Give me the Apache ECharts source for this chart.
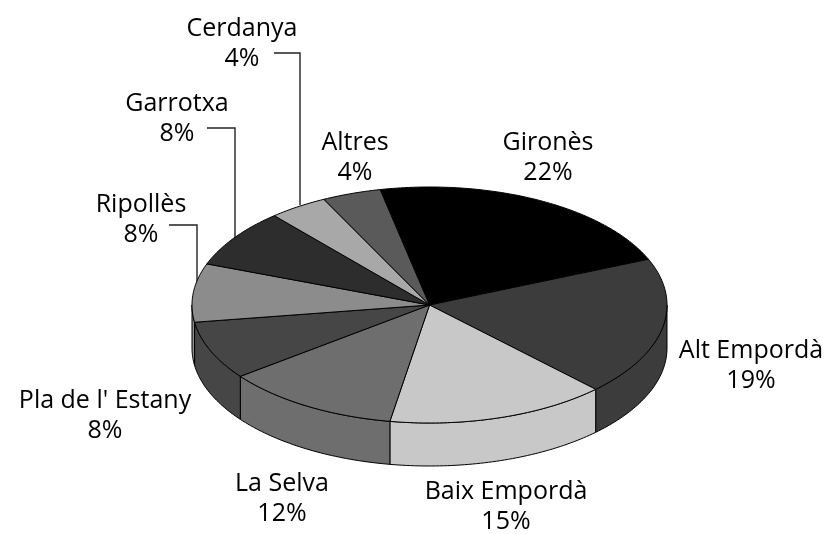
<!DOCTYPE html>
<html>
<head>
<meta charset="utf-8">
<style>
  html, body { margin: 0; padding: 0; background: #fff; }
  #chart { width: 827px; height: 534px; }
</style>
<script src="https://cdn.jsdelivr.net/npm/echarts@6/dist/echarts.min.js"></script>
</head>
<body>
<div id="chart"></div>
<script>
var categories = ['Gironès', 'Alt Empordà', 'Baix Empordà', 'La Selva', 'Pla de l\' Estany', 'Ripollès', 'Garrotxa', 'Cerdanya', 'Altres'];
var shares = [22, 19, 15, 12, 8, 8, 8, 4, 4];
var greys = ['#000000', '#3c3c3c', '#c8c8c8', '#6e6e6e', '#464646', '#8c8c8c', '#2d2d2d', '#a8a8a8', '#5a5a5a'];

// layout of the tilted pie
var cx = 429.5, cy = 305, rx = 237.5, ry = 118, depth = 43;
var startAngle = 102;

// label centres, same order as categories
var labelX = [548, 751, 506, 282, 105, 141, 177, 242, 355];
var labelY = [158, 366, 507, 499, 416, 220, 119, 44, 158];

// leader lines: Ripollès, Garrotxa, Cerdanya
var leaders = {
  5: [[169, 225], [197, 225], [197, 287]],
  6: [[207, 128], [235, 128], [235, 238]],
  7: [[274, 53], [300, 53], [300, 205]]
};

var total = shares.reduce(function (a, b) { return a + b; }, 0);

function edge(deg, dy) {
  var r = deg * Math.PI / 180;
  return [cx + rx * Math.cos(r), cy - ry * Math.sin(r) + (dy || 0)];
}

function arc(from, to, dy) {
  var pts = [];
  var n = Math.max(2, Math.ceil(Math.abs(from - to)));
  for (var i = 0; i <= n; i++) {
    pts.push(edge(from + (to - from) * i / n, dy));
  }
  return pts;
}

function renderSlice(params, api) {
  var i = params.dataIndex;
  var before = 0;
  for (var k = 0; k < i; k++) before += shares[k];
  var from = startAngle - before / total * 360;
  var to = from - api.value(0) / total * 360;
  var children = [];
  var line = { stroke: '#000', lineWidth: 1, lineJoin: 'round' };

  // outer wall, only the part that faces the viewer (-180..-360 of the ellipse)
  var ranges = [[-180, 0], [-540, -360]];
  ranges.forEach(function (rg) {
    var a = Math.min(from, rg[1]), b = Math.max(to, rg[0]);
    if (a > b) {
      var wall = arc(a, b, 0).concat(arc(b, a, depth));
      children.push({
        type: 'polygon', z2: 1,
        shape: { points: wall },
        style: Object.assign({ fill: greys[i] }, line)
      });
    }
  });

  // top face
  children.push({
    type: 'polygon', z2: 2,
    shape: { points: [[cx, cy]].concat(arc(from, to, 0)) },
    style: Object.assign({ fill: greys[i] }, line)
  });

  if (leaders[i]) {
    children.push({
      type: 'polyline', z2: 0,
      shape: { points: leaders[i] },
      style: { stroke: '#222', lineWidth: 1.4, fill: null }
    });
  }

  children.push({
    type: 'text', z2: 3,
    style: {
      x: labelX[i], y: labelY[i],
      text: categories[i] + '\n' + api.value(0) + '%',
      fill: '#000',
      font: '25px "Open Sans"',
      lineHeight: 30,
      align: 'center',
      verticalAlign: 'middle'
    }
  });

  return { type: 'group', children: children };
}

var chart = echarts.init(document.getElementById('chart'));
chart.setOption({
  animation: false,
  backgroundColor: '#fff',
  series: [{
    type: 'custom',
    coordinateSystem: 'none',
    silent: true,
    renderItem: renderSlice,
    data: shares.map(function (v) { return [v]; })
  }]
});
</script>
</body>
</html>
